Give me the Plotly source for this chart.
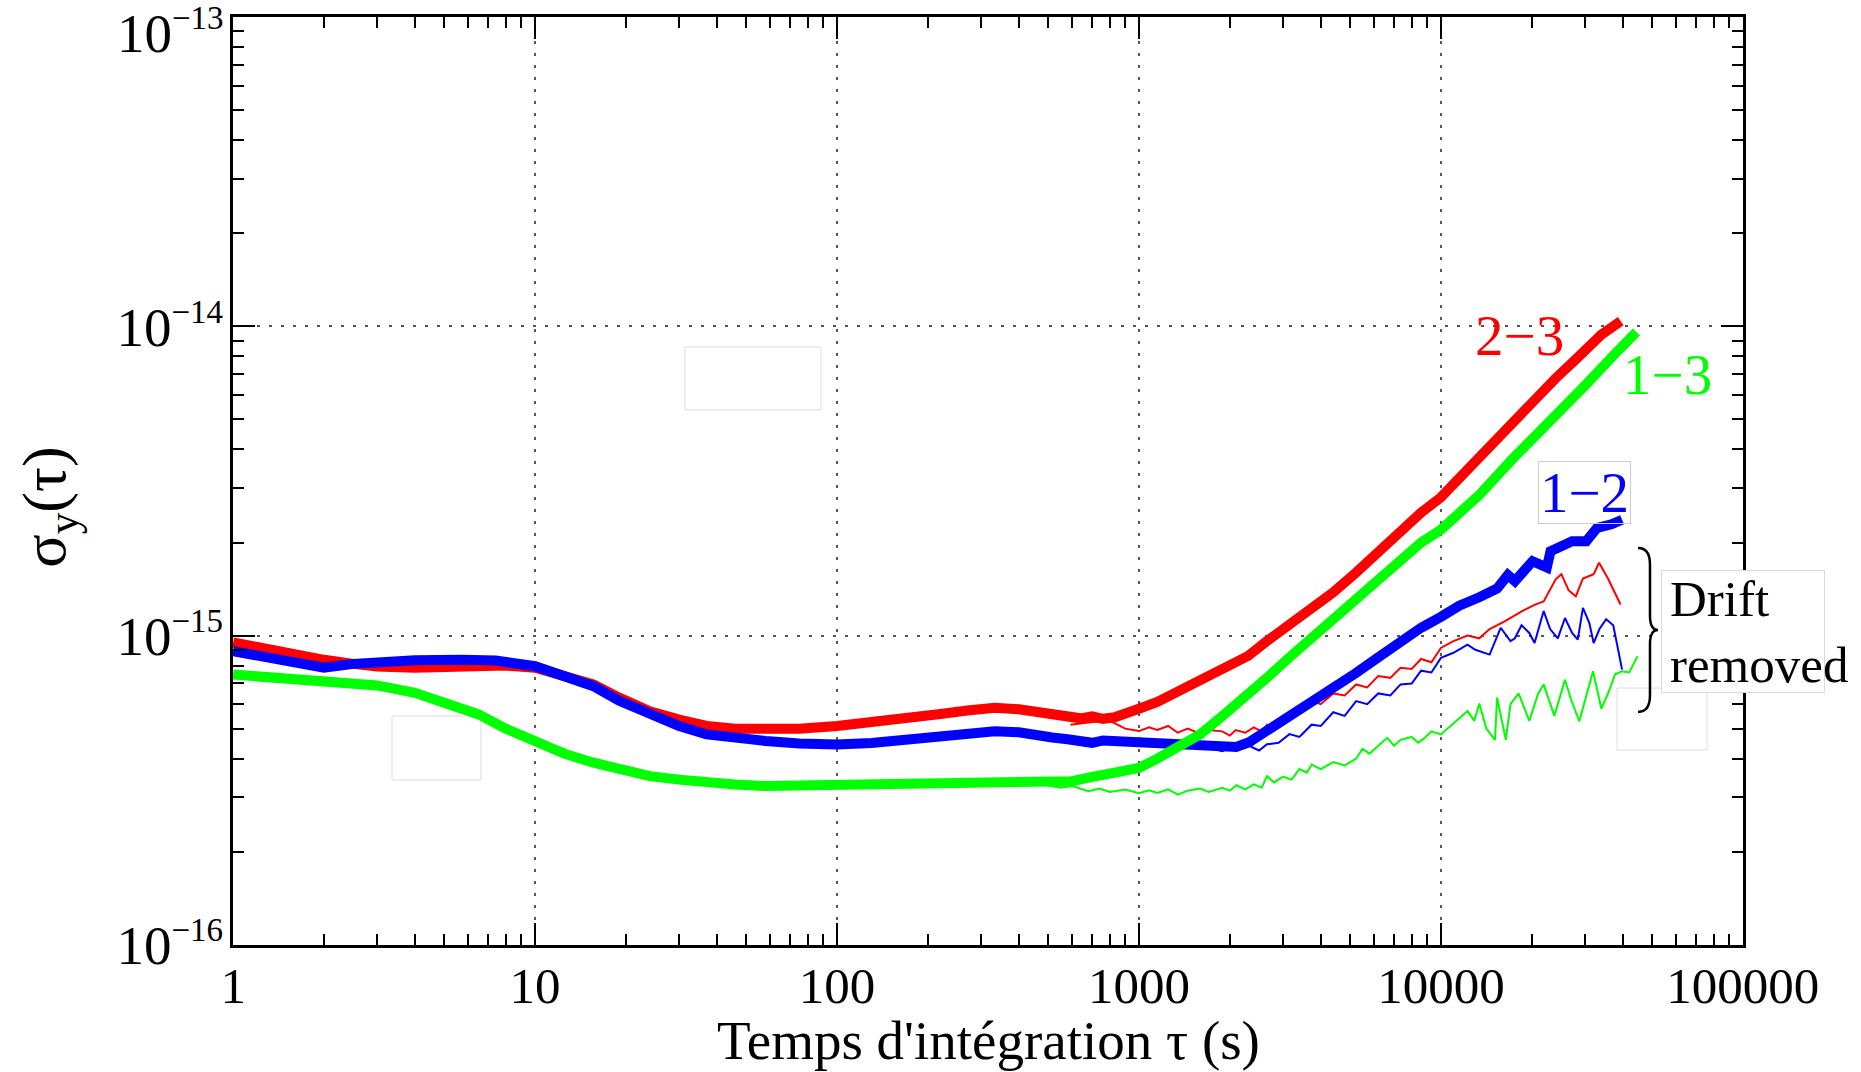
import plotly.graph_objects as go

# ---------------- data (sigma values in units of 1e-15) ----------------
tau_23 = [1, 1.3, 1.6, 2, 2.5, 3, 4, 5, 6.5, 8, 10, 12.5, 15.6, 19, 24, 30, 37, 46, 58, 75, 100,
          130, 173, 220, 270, 333, 400, 460, 516, 580, 640, 700, 760, 835, 920, 1000, 1150, 1344,
          1600, 1888, 2300, 2654, 3150, 3730, 4400, 5240, 6200, 7350, 8600, 10000, 12250, 15000,
          17600, 20500, 24000, 27500, 30300, 34000, 39400]
sig_23 = [0.95, 0.90, 0.865, 0.835, 0.81, 0.795, 0.787, 0.79, 0.806, 0.80, 0.787, 0.745, 0.695,
          0.63, 0.569, 0.535, 0.51, 0.50, 0.497, 0.50, 0.51, 0.523, 0.542, 0.558, 0.572, 0.584,
          0.578, 0.566, 0.556, 0.547, 0.54, 0.548, 0.538, 0.545, 0.56, 0.58, 0.61, 0.66, 0.72,
          0.787, 0.86, 0.96, 1.08, 1.21, 1.38, 1.6, 1.86, 2.2, 2.5, 2.8, 3.45, 4.25, 5.0, 5.8, 6.8,
          7.7, 8.5, 9.4, 10.4]

tau_13 = [1, 1.3, 2, 3, 4, 5, 6.5, 8, 10, 12.5, 15.6, 19, 24, 30, 37, 46, 58, 75, 100, 130, 173,
          230, 333, 420, 516, 600, 681, 835, 1000, 1150, 1344, 1594, 1888, 2300, 2654, 3150, 3730,
          4400, 5240, 6200, 7350, 8600, 10000, 13400, 17600, 23000, 30300, 37000, 44400]
sig_13 = [0.748, 0.735, 0.72, 0.69, 0.653, 0.61, 0.556, 0.50, 0.456, 0.415, 0.388, 0.37, 0.351,
          0.342, 0.334, 0.33, 0.326, 0.327, 0.33, 0.329, 0.332, 0.334, 0.338, 0.335, 0.334, 0.338,
          0.347, 0.362, 0.373, 0.40, 0.434, 0.479, 0.549, 0.64, 0.73, 0.85, 0.98, 1.12, 1.29, 1.5,
          1.75, 2.0, 2.2, 2.85, 3.8, 4.9, 6.5, 8.0, 9.6]

tau_12 = [1, 1.3, 1.6, 2, 2.5, 3.3, 4, 5.7, 7.4, 10, 12.5, 15.6, 19, 24, 30, 37, 46, 58, 75, 100,
          130, 173, 230, 333, 400, 460, 516, 580, 640, 700, 760, 835, 1000, 1150, 1344, 1600, 1888,
          2100, 2316, 2654, 3150, 3730, 4400, 5240, 6200, 7350, 8600, 10000, 11500, 13400, 15350,
          16660, 17580, 20120, 22430, 23070, 27200, 30300, 32900, 36700, 39820]
sig_12 = [0.89, 0.85, 0.815, 0.787, 0.81, 0.826, 0.832, 0.836, 0.83, 0.796, 0.745, 0.686, 0.615,
          0.556, 0.51, 0.479, 0.466, 0.456, 0.448, 0.444, 0.449, 0.461, 0.475, 0.49, 0.487, 0.472,
          0.468, 0.462, 0.456, 0.45, 0.458, 0.456, 0.456, 0.452, 0.45, 0.445, 0.437, 0.436, 0.452,
          0.491, 0.549, 0.614, 0.68, 0.757, 0.85, 0.959, 1.06, 1.15, 1.25, 1.33, 1.42, 1.57, 1.50,
          1.74, 1.66, 1.875, 2.02, 2.02, 2.23, 2.29, 2.37]

# drift removed
tau_23d = [593, 700, 807, 900, 1000, 1080, 1150, 1250, 1344, 1450, 1594, 1700, 1888, 2000, 2091,
           2250, 2400, 2550, 2654, 2850, 3100, 3400, 3730, 4000, 4400, 4800, 5240, 5700, 6200,
           6800, 7350, 8000, 8600, 9300, 10000, 11000, 12250, 13400, 14500, 16200, 18580, 20500,
           21890, 24000, 25060, 26500, 27970, 29540, 32050, 33400, 35740, 39350]
sig_23d = [0.515, 0.525, 0.528, 0.50, 0.491, 0.505, 0.495, 0.51, 0.485, 0.50, 0.482, 0.495, 0.49,
           0.475, 0.495, 0.485, 0.505, 0.49, 0.515, 0.50, 0.55, 0.56, 0.614, 0.60, 0.65, 0.64,
           0.695, 0.68, 0.74, 0.73, 0.787, 0.78, 0.84, 0.82, 0.912, 0.96, 1.0, 0.98, 1.05, 1.11,
           1.20, 1.26, 1.29, 1.52, 1.58, 1.40, 1.34, 1.53, 1.58, 1.72, 1.53, 1.26]

tau_12d = [1000, 1100, 1200, 1300, 1400, 1500, 1600, 1750, 1888, 2000, 2100, 2316, 2500, 2654,
           2900, 3150, 3400, 3730, 4000, 4400, 4800, 5240, 5700, 6200, 6800, 7350, 8000, 8600,
           9300, 10000, 11000, 12250, 13000, 14500, 15770, 17000, 17580, 18500, 19620, 20430,
           21890, 23000, 24390, 25760, 27200, 28400, 29540, 31000, 32050, 33500, 35260, 37220,
           39820]
sig_12d = [0.456, 0.445, 0.455, 0.44, 0.45, 0.435, 0.445, 0.43, 0.423, 0.435, 0.425, 0.44, 0.425,
           0.445, 0.45, 0.48, 0.47, 0.515, 0.51, 0.565, 0.55, 0.614, 0.60, 0.65, 0.64, 0.695, 0.70,
           0.77, 0.76, 0.847, 0.88, 0.935, 0.90, 0.868, 1.06, 0.96, 0.98, 1.08, 1.02, 0.946, 1.2,
           1.05, 0.98, 1.14, 1.02, 0.97, 1.23, 1.1, 0.946, 1.05, 1.13, 1.08, 0.776]

tau_13d = [345, 420, 484, 550, 600, 681, 740, 800, 900, 1000, 1080, 1150, 1250, 1344, 1450, 1594,
           1700, 1888, 2000, 2100, 2250, 2400, 2550, 2654, 2800, 3000, 3200, 3400, 3600, 3730,
           4000, 4400, 4800, 5240, 5500, 5800, 6200, 6640, 7000, 7350, 8000, 8400, 8800, 9300,
           10000, 11000, 12250, 12900, 13400, 14140, 15100, 15350, 16400, 17000, 18080, 19620,
           21000, 21890, 23750, 25760, 27000, 28740, 31000, 31900, 34000, 36000, 37760, 39820,
           42000, 44800]
sig_13d = [0.334, 0.328, 0.33, 0.322, 0.326, 0.314, 0.32, 0.312, 0.318, 0.309, 0.316, 0.31, 0.318,
           0.306, 0.315, 0.32, 0.312, 0.322, 0.315, 0.328, 0.318, 0.33, 0.322, 0.351, 0.335, 0.35,
           0.342, 0.37, 0.36, 0.383, 0.37, 0.39, 0.38, 0.40, 0.43, 0.415, 0.44, 0.467, 0.44, 0.46,
           0.47, 0.45, 0.465, 0.49, 0.479, 0.52, 0.57, 0.53, 0.603, 0.50, 0.46, 0.63, 0.46, 0.60,
           0.65, 0.53, 0.65, 0.695, 0.55, 0.72, 0.62, 0.528, 0.70, 0.767, 0.58, 0.66, 0.75, 0.767,
           0.76, 0.857]

UNIT = 1e-15
x_ticks = [1, 10, 100, 1000, 10000, 100000]
x_tick_text = ["1", "10", "100", "1000", "10000", "100000"]
y_ticks = [1e-16, 1e-15, 1e-14, 1e-13]
y_exps = ["\u221216", "\u221215", "\u221214", "\u221213"]
SUP = "10<sup><span style='font-size:33px'>%s</span></sup>"
y_tick_text = [SUP % e for e in y_exps[:-1]] + [""]   # top label drawn as annotation below

RED, GREEN, BLUE = "#ff0000", "#00ff00", "#0000ff"
FONT = "Liberation Serif"

fig = go.Figure()


def add(t, s, color, width):
    fig.add_trace(go.Scatter(x=t, y=[v * UNIT for v in s], mode="lines",
                             line=dict(color=color, width=width),
                             showlegend=False, hoverinfo="skip"))


add(tau_23d, sig_23d, RED, 2)
add(tau_12d, sig_12d, BLUE, 2)
add(tau_13d, sig_13d, GREEN, 2)
add(tau_23, sig_23, RED, 10)
add(tau_12, sig_12, BLUE, 10)
add(tau_13, sig_13, GREEN, 10)

minor_x = [m * d for d in [1, 10, 100, 1000, 10000] for m in range(2, 10)]
minor_y = [m * d for d in [1e-16, 1e-15, 1e-14] for m in range(2, 10)]

axis_common = dict(showline=True, linecolor="black", linewidth=3, mirror="allticks",
                   ticks="inside", ticklen=22, tickwidth=2, tickcolor="black",
                   showgrid=True, gridcolor="#555555", gridwidth=2, griddash="3px,9px",
                   zeroline=False)

fig.update_xaxes(type="log", range=[-0.0005, 5.0005], tickmode="array", tickvals=x_ticks,
                 ticktext=x_tick_text, tickfont=dict(family=FONT, size=51, color="black"),
                 minor=dict(tickmode="array", tickvals=minor_x, ticks="inside", ticklen=11,
                            tickwidth=2, tickcolor="black", showgrid=False),
                 ticklabelstandoff=-6, **axis_common)
fig.update_yaxes(type="log", range=[-16.0008, -12.9992], tickmode="array", tickvals=y_ticks,
                 ticktext=y_tick_text, tickfont=dict(family=FONT, size=55, color="black"),
                 minor=dict(tickmode="array", tickvals=minor_y, ticks="inside", ticklen=11,
                            tickwidth=2, tickcolor="black", showgrid=False),
                 ticklabelstandoff=-4, **axis_common)

# plot area: x 233..1743, y 17..945 (pixels)
annotations = [
    dict(text=SUP % y_exps[-1], x=-0.0045, y=0.984, xanchor="right",
         font=dict(color="black", size=55)),
    dict(text="2\u22123", x=0.8517, y=0.6573, font=dict(color=RED, size=57)),
    dict(text="1\u22123", x=0.9503, y=0.6153, font=dict(color=GREEN, size=57)),
    dict(text="1\u22122", x=0.8950, y=0.4876, font=dict(color=BLUE, size=57),
         bordercolor="#cccccc", borderwidth=1, width=89, height=59, bgcolor="rgba(255,255,255,0)"),
    dict(text=" ", x=0.9457, y=0.3378, xanchor="left", font=dict(color="black", size=20),
         bordercolor="#d9d9d9", borderwidth=1, width=160, height=119, bgcolor="white"),
    dict(text="Drift<br>removed", x=0.9503, y=0.3378, xanchor="left", align="left",
         font=dict(color="black", size=51)),
    dict(text="Temps d'int\u00e9gration \u03c4 (s)", x=0.5, y=-0.1034, font=dict(color="black", size=55)),
    dict(text="\u03c3<sub>y</sub>(\u03c4)", x=-0.122, y=0.472, textangle=-90,
         font=dict(color="black", size=62)),
]
for a in annotations:
    a.setdefault("xref", "paper")
    a.setdefault("yref", "paper")
    a.setdefault("showarrow", False)
    a.setdefault("xanchor", "center")
    a.setdefault("yanchor", "middle")
    a["font"]["family"] = FONT
    fig.add_annotation(**a)

boxes = [(0.2993, 0.5765, 0.3894, 0.6444), (0.1053, 0.1778, 0.1642, 0.2468),
         (0.9166, 0.2101, 0.9762, 0.2769)]
for x0, y0, x1, y1 in boxes:
    fig.add_shape(type="rect", xref="paper", yref="paper", x0=x0, y0=y0, x1=x1, y1=y1,
                  line=dict(color="#dcdcdc", width=1), fillcolor="white", layer="below")

# curly brace
fig.add_shape(type="path", xref="paper", yref="paper",
              path="M 0.9305,0.4278 Q 0.9384,0.4278 0.9384,0.41 L 0.9384,0.355 "
                   "Q 0.9384,0.3394 0.9437,0.3394 Q 0.9384,0.3394 0.9384,0.324 "
                   "L 0.9384,0.269 Q 0.9384,0.2511 0.9305,0.2511",
              line=dict(color="black", width=2.5))

fig.update_layout(width=1861, height=1072, margin=dict(l=233, r=118, t=17, b=127),
                  paper_bgcolor="white", plot_bgcolor="white",
                  font=dict(family=FONT, color="black"))

fig.write_html("out.html")
